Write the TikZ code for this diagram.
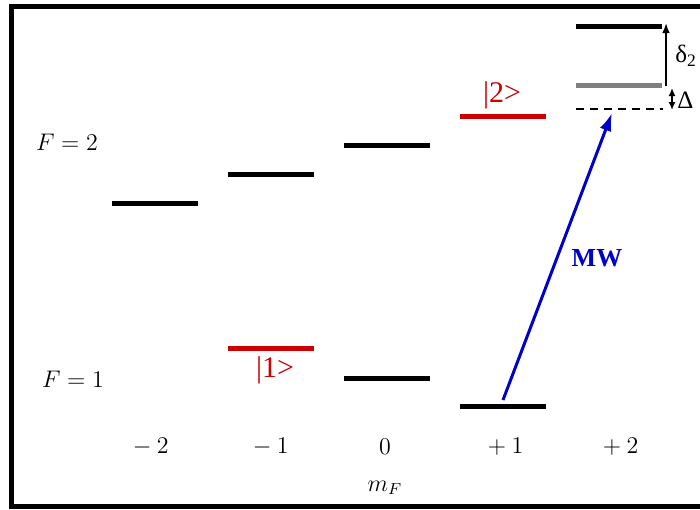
\documentclass[tikz,border=0pt]{standalone}
\usepackage{fontspec}
\newfontfamily\timesf{Liberation Serif}
\usetikzlibrary{arrows.meta}
\definecolor{lvred}{RGB}{204,0,0}
\definecolor{mwblue}{RGB}{0,0,204}
\definecolor{lvgray}{RGB}{128,128,128}
\begin{document}
\begin{tikzpicture}[x=0.5pt,y=-0.5pt,
  lvl/.style={draw=none,fill=black,inner sep=0pt,minimum width=43pt,minimum height=2.5pt},
  redlvl/.style={lvl,fill=lvred},
  graylvl/.style={lvl,fill=lvgray},
  flabel/.style={inner sep=0pt,font=\fontsize{11.5}{13}\selectfont},
  ketlabel/.style={inner sep=0pt,text=lvred,font=\timesf\fontsize{15}{17}\selectfont},
  greeklabel/.style={inner sep=0pt,font=\timesf\fontsize{12.5}{14}\selectfont},
  mwarrow/.style={draw=mwblue,line width=1.5pt,-{Latex[length=9pt,width=6pt]}},
  smallarrow/.style={line width=0.8pt,-{Latex[length=5pt,width=3.8pt]}}
]
\useasboundingbox (0,0) rectangle (700,509);
\clip (0,0) rectangle (700,509);
\fill[white] (0,0) rectangle (700,509);
\draw[line width=2.5pt] (710,6.5) -- (11.5,6.5) -- (11.5,506.5) -- (710,506.5);

% F = 2 levels
\node[lvl] (u2m2) at (155,203) {};
\node[lvl] (u2m1) at (271,174) {};
\node[lvl] (u20) at (387,145) {};
\node[redlvl] (u2p1) at (503,116) {};
\node[lvl] (u2p2) at (619,26) {};
\node[graylvl] (g2p2) at (619,85) {};
\coordinate (dl) at (576,109);
\coordinate (dr) at (663,109);
\draw[dashed,line width=0.6pt,dash pattern=on 4pt off 3pt] (dl) -- (dr);

% F = 1 levels
\node[redlvl] (l1m1) at (271,348) {};
\node[lvl] (l10) at (387,378) {};
\node[lvl] (l1p1) at (503,406) {};

% arrows
\coordinate (mwstart) at (503,400);
\coordinate (mwend) at (612,113);
\draw[mwarrow] (mwstart) -- (mwend);
\coordinate (d2lo) at (666,86);
\coordinate (d2hi) at (666,23);
\draw[smallarrow] (d2lo) -- (d2hi);
\coordinate (dlo) at (672,88);
\coordinate (dhi) at (672,110);
\draw[line width=0.8pt,{Latex[length=4pt,width=3.5pt]}-{Latex[length=4pt,width=3.5pt]}] (dlo) -- (dhi);

% labels
\node[flabel] (f2) at (67,142) {$F=2$};
\node[flabel] (f1) at (73,379) {$F=1$};
\node[flabel] (mm2) at (148,447) {${}-2$};
\node[flabel] (mm1) at (268,447) {${}-1$};
\node[flabel] (m0) at (385,447) {$0$};
\node[flabel] (mp1) at (503,447) {${}+1$};
\node[flabel] (mp2) at (618,447) {${}+2$};
\node[flabel] (mf) at (385,488) {$m_F$};
\node[ketlabel] (k1) at (275,370) {|1>};
\node[ketlabel] (k2) at (502,95) {|2>};
\node[inner sep=0pt,text=mwblue,font=\timesf\bfseries\fontsize{13}{15}\selectfont] (mw) at (597,258) {MW};
\node[greeklabel,anchor=west] (dlt2) at (675,56) {δ\textsubscript{2}};
\node[greeklabel,anchor=west] (dlt) at (677,100) {Δ};
\end{tikzpicture}
\end{document}
